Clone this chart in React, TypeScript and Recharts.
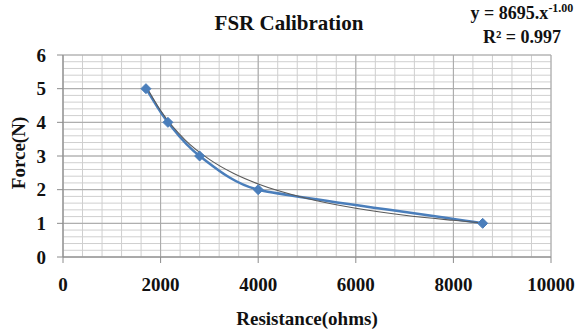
import { ComposedChart, Line, XAxis, YAxis, CartesianGrid } from 'recharts';

// measured calibration points
const resistance = [1700, 2150, 2800, 4000, 8600];
const force = [5, 4, 3, 2, 1];

// power trendline
const trendResistance = [1700, 2000, 2500, 3000, 3500, 4000, 5000, 6000, 7000, 8000, 8600];
const trendForce = [5.08, 4.35, 3.48, 2.9, 2.48, 2.17, 1.74, 1.45, 1.24, 1.09, 1.01];

const xDomain = [0, 10000];
const yDomain = [0, 6];
const xTicks = [0, 2000, 4000, 6000, 8000, 10000];
const yTicks = [0, 1, 2, 3, 4, 5, 6];
const xMinor = [
  0, 400, 800, 1200, 1600, 2000, 2400, 2800, 3200, 3600, 4000, 4400, 4800,
  5200, 5600, 6000, 6400, 6800, 7200, 7600, 8000, 8400, 8800, 9200, 9600, 10000,
];
const yMinor = [
  0, 0.2, 0.4, 0.6, 0.8, 1, 1.2, 1.4, 1.6, 1.8, 2, 2.2, 2.4, 2.6, 2.8, 3, 3.2,
  3.4, 3.6, 3.8, 4, 4.2, 4.4, 4.6, 4.8, 5, 5.2, 5.4, 5.6, 5.8, 6,
];

const measured = resistance.map((r, i) => ({ r, force: force[i] }));
const trend = trendResistance.map((r, i) => ({ r, fit: trendForce[i] }));

const FONT = '"Liberation Serif", "Times New Roman", serif';
const BLUE = '#4a7ebb';

const tickStyle = { fontFamily: FONT, fontWeight: 700, fontSize: 19, fill: '#111' };

// spreadsheet-style smoothed line: tangent from neighbours,
// handle length limited by the shorter adjacent segment
function smoothCurve(context: any) {
  let pts: number[][] = [];
  const dist = (a: number[], b: number[]) => Math.hypot(b[0] - a[0], b[1] - a[1]);
  return {
    areaStart() {},
    areaEnd() {},
    lineStart() {
      pts = [];
    },
    point(x: number, y: number) {
      pts.push([+x, +y]);
    },
    lineEnd() {
      const n = pts.length;
      if (!n) return;
      context.moveTo(pts[0][0], pts[0][1]);
      const tan = pts.map((_, i) => {
        const a = pts[Math.max(i - 1, 0)];
        const b = pts[Math.min(i + 1, n - 1)];
        const d = dist(a, b) || 1;
        return [(b[0] - a[0]) / d, (b[1] - a[1]) / d];
      });
      const seg = pts.slice(1).map((p, i) => dist(pts[i], p));
      const handle = (i: number) => {
        const l = i > 0 ? seg[i - 1] : Infinity;
        const r = i < n - 1 ? seg[i] : Infinity;
        return (Math.min(l, r) / 3) * 1.15;
      };
      for (let i = 0; i < n - 1; i++) {
        const p1 = pts[i];
        const p2 = pts[i + 1];
        const h1 = Math.min(handle(i), seg[i] / 2);
        const h2 = Math.min(handle(i + 1), seg[i] / 2);
        context.bezierCurveTo(
          p1[0] + tan[i][0] * h1,
          p1[1] + tan[i][1] * h1,
          p2[0] - tan[i + 1][0] * h2,
          p2[1] - tan[i + 1][1] * h2,
          p2[0],
          p2[1]
        );
      }
    },
  };
}

function Diamond(props: any) {
  const { cx, cy, index } = props;
  if (cx == null || cy == null) return <g key={`d-${index}`} />;
  const s = 5;
  return (
    <path
      key={`d-${index}`}
      d={`M${cx},${cy - s}L${cx + s},${cy}L${cx},${cy + s}L${cx - s},${cy}Z`}
      fill={BLUE}
      stroke={BLUE}
    />
  );
}

// minor grid positions from the plot offset
const minorX = ({ xAxis, offset }: any) =>
  xMinor.map((v) =>
    typeof xAxis?.scale === 'function'
      ? xAxis.scale(v)
      : offset.left + (offset.width * (v - xDomain[0])) / (xDomain[1] - xDomain[0])
  );
const minorY = ({ yAxis, offset }: any) =>
  yMinor.map((v) =>
    typeof yAxis?.scale === 'function'
      ? yAxis.scale(v)
      : offset.top + offset.height * (1 - (v - yDomain[0]) / (yDomain[1] - yDomain[0]))
  );

export default function App() {
  return (
    <div style={{ position: 'absolute', left: 0, top: 0, width: 582, height: 333, background: '#fff' }}>
      <ComposedChart
        width={582}
        height={333}
        margin={{ top: 55, right: 31, left: 23, bottom: 0 }}
      >
        <CartesianGrid
          stroke="#cfcfcf"
          strokeWidth={1}
          verticalCoordinatesGenerator={minorX}
          horizontalCoordinatesGenerator={minorY}
        />
        <CartesianGrid stroke="#a8a8a8" strokeWidth={1} />
        <XAxis
          type="number"
          dataKey="r"
          domain={xDomain}
          ticks={xTicks}
          allowDataOverflow
          height={76}
          stroke="#8c8c8c"
          tickSize={6}
          tickMargin={15}
          tick={tickStyle}
          label={{
            value: 'Resistance(ohms)',
            position: 'insideBottom',
            offset: 8,
            style: { fontFamily: FONT, fontWeight: 700, fontSize: 19, fill: '#111' },
          }}
        />
        <YAxis
          type="number"
          domain={yDomain}
          ticks={yTicks}
          width={40}
          stroke="#8c8c8c"
          tickSize={6}
          tickMargin={11}
          tick={tickStyle}
        />
        <Line
          data={measured}
          dataKey="force"
          type={smoothCurve as any}
          stroke={BLUE}
          strokeWidth={2.5}
          dot={Diamond}
          activeDot={false}
          isAnimationActive={false}
        />
        <Line
          data={trend}
          dataKey="fit"
          type="monotone"
          stroke="#5a5a5a"
          strokeWidth={1.1}
          dot={false}
          activeDot={false}
          isAnimationActive={false}
        />
      </ComposedChart>
      <svg
        width={582}
        height={333}
        style={{ position: 'absolute', left: 0, top: 0, pointerEvents: 'none' }}
      >
        <text x={289} y={30} textAnchor="middle" fontFamily={FONT} fontWeight={700} fontSize={21} fill="#111">
          FSR Calibration
        </text>
        <text x={522} y={19} textAnchor="middle" fontFamily={FONT} fontWeight={700} fontSize={18} fill="#111">
          y = 8695.x
          <tspan fontSize={12} dy={-7}>-1.00</tspan>
        </text>
        <text x={522} y={43} textAnchor="middle" fontFamily={FONT} fontWeight={700} fontSize={18} fill="#111">
          R² = 0.997
        </text>
        <text
          x={18}
          y={153}
          transform="rotate(-90 18 153)"
          textAnchor="middle"
          dominantBaseline="central"
          fontFamily={FONT}
          fontWeight={700}
          fontSize={19}
          fill="#111"
        >
          Force(N)
        </text>
      </svg>
    </div>
  );
}
